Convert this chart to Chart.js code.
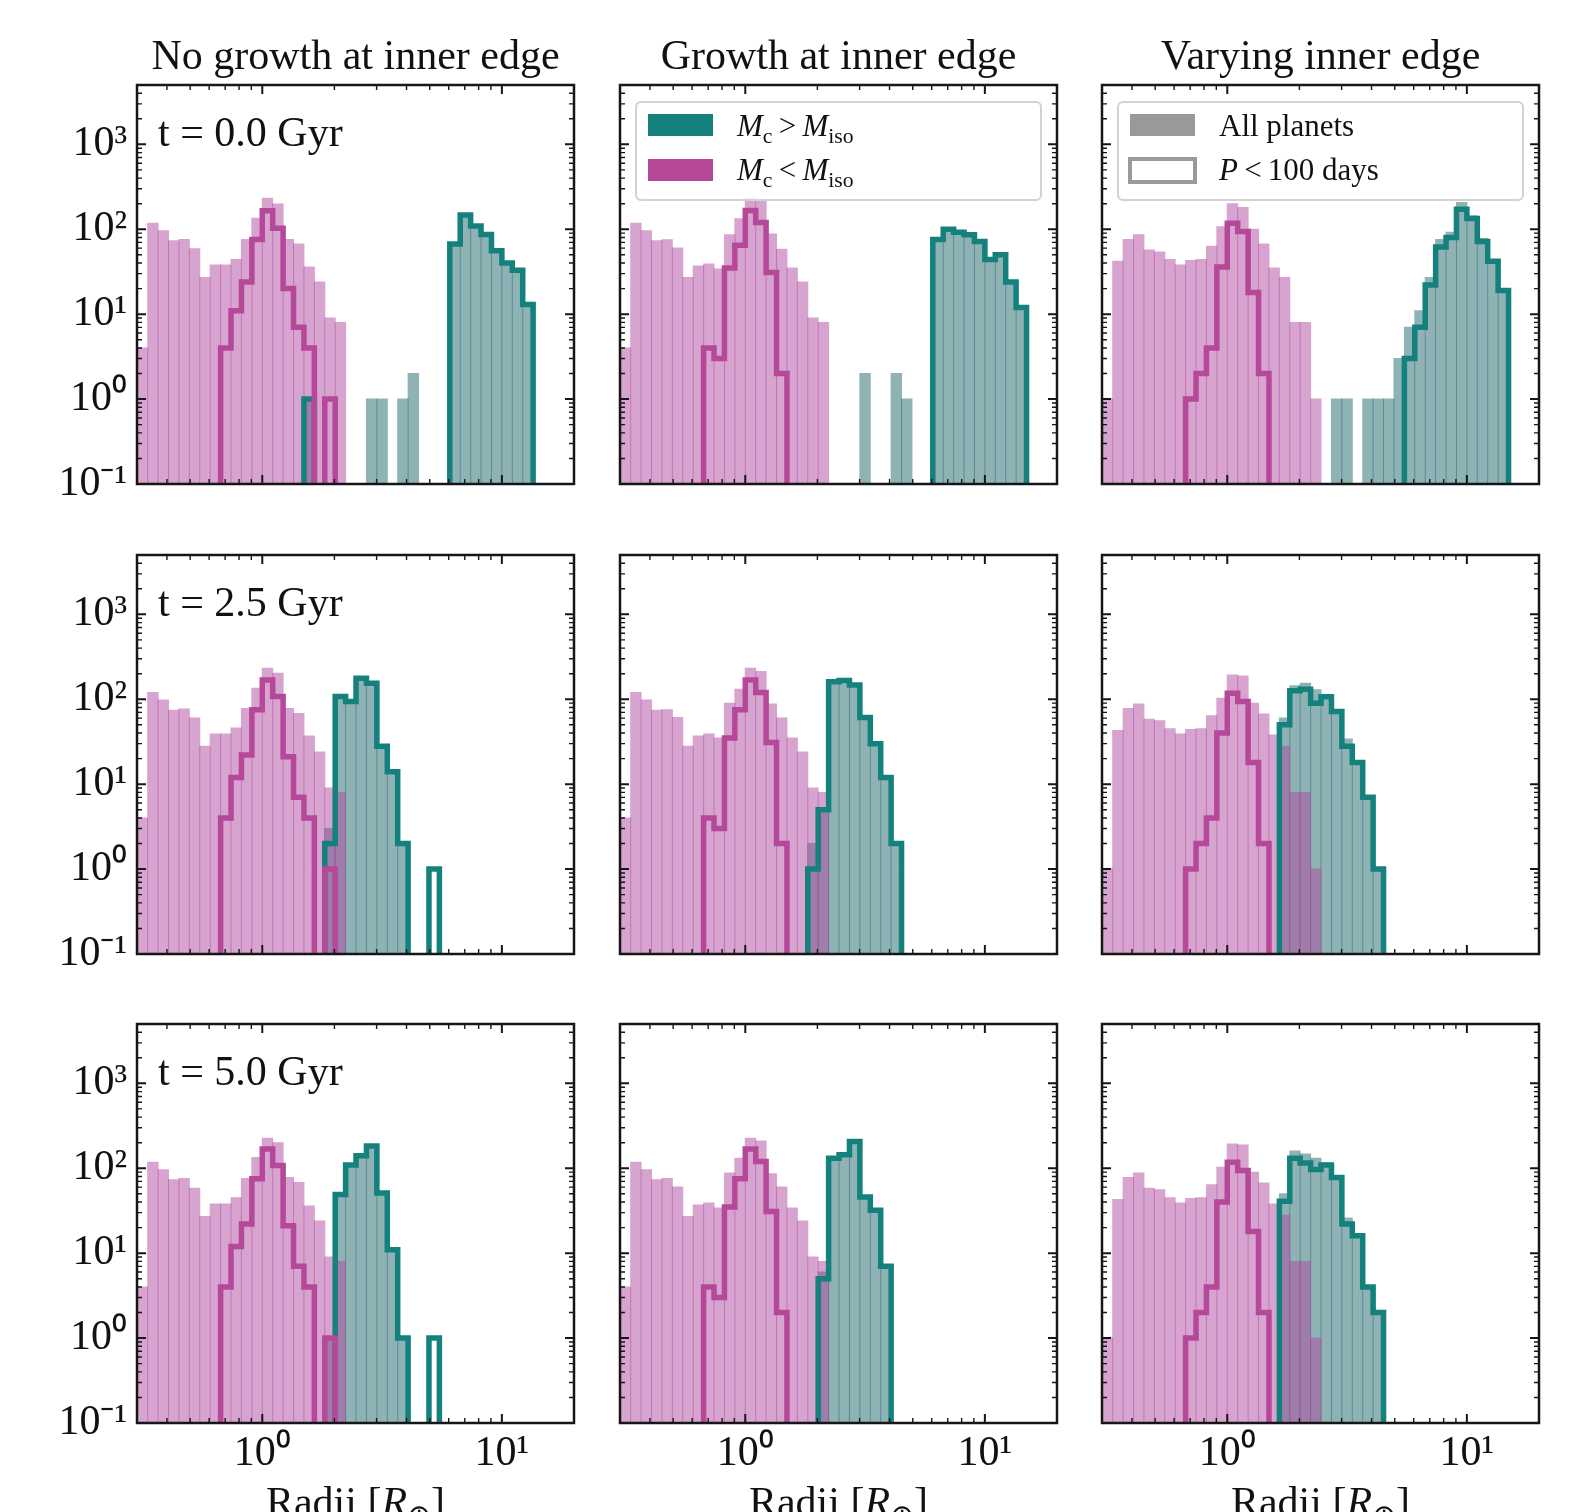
<!DOCTYPE html>
<html>
<head>
<meta charset="utf-8">
<script src="https://cdn.jsdelivr.net/npm/chart.js@4.4.0/dist/chart.umd.min.js"></script>
<style>
  html, body { margin: 0; padding: 0; background: #fff; }
  #fig { position: relative; width: 1590px; height: 1512px; overflow: hidden;
         font-family: "Liberation Serif", "Times New Roman", serif; color: #111; }
  #fig canvas { position: absolute; }
  .txt { position: absolute; white-space: nowrap; line-height: 1; }
  .legend { position: absolute; box-sizing: border-box; border: 2px solid #d2d2d2;
            border-radius: 6px; background: rgba(255, 255, 255, 0.8); }
  .sw { position: absolute; box-sizing: border-box; }
  sub { font-size: 70%; vertical-align: baseline; position: relative; top: 0.3em; }
</style>
</head>
<body>
<div id="fig"></div>
<script>
// log-spaced radius bins (23 per decade), edges in Earth radii
const binEdges = [0.30079, 0.33246, 0.36747, 0.40617, 0.44893, 0.49620, 0.54844, 0.60619,
  0.67002, 0.74057, 0.81854, 0.90473, 1.0, 1.1053, 1.2217, 1.3503, 1.4925, 1.6497, 1.8234,
  2.0154, 2.2276, 2.4622, 2.7215, 3.0080, 3.3248, 3.6749, 4.0618, 4.4895, 4.9623, 5.4848,
  6.0624, 6.7007, 7.4063, 8.1862, 9.0482, 10.0, 11.053, 12.217, 13.503, 14.925, 16.497,
  18.234, 20.154];

const columnTitles = ['No growth at inner edge', 'Growth at inner edge', 'Varying inner edge'];
const timeLabels = ['t = 0.0 Gyr', 't = 2.5 Gyr', 't = 5.0 Gyr'];
const yTickLabels = {0.1: '10\u207B\u00B9', 1: '10\u2070', 10: '10\u00B9', 100: '10\u00B2', 1000: '10\u00B3'};
const xTickLabels = {1: '10\u2070', 10: '10\u00B9'};

// counts per bin. magenta = Mc < Miso, teal = Mc > Miso
// "All" = all planets (filled), "Short" = P < 100 days (step outline)
// ng = no growth, gr = growth, vr = varying inner edge

// t = 0.0 Gyr
const magAll_ng_t0 = [4, 118, 96, 73, 76, 59, 27, 38, 38, 44, 76, 135, 232, 199, 76, 67, 36, 24, 9, 8];
const magShort_ng_t0 = [4, 11, 24, 76, 165, 103, 20, 7, 4, 0, 1];
const tealAll_ng_t0 = [1, 0, 0, 0, 0, 0, 1, 1, 0, 1, 2, 0, 0, 0, 67, 147, 109, 87, 56, 40, 33, 13];
const tealShort_ng_t0 = [1, 0, 0, 0, 0, 0, 0, 0, 0, 0, 0, 0, 0, 0, 67, 147, 109, 87, 56, 40, 33, 13];

const magAll_gr_t0 = [4, 118, 96, 73, 75, 60, 27, 37, 39, 34, 86, 133, 232, 212, 88, 58, 35, 24, 9, 8];
const magShort_gr_t0 = [4, 3, 35, 65, 166, 120, 31, 2];
const tealAll_gr_t0 = [2, 0, 0, 2, 1, 0, 0, 76, 100, 92, 86, 72, 44, 50, 24, 12];
const tealShort_gr_t0 = [76, 100, 92, 86, 72, 44, 50, 24, 12];

const magAll_vr_t0 = [1, 42, 76, 86, 57, 54, 44, 38, 43, 44, 63, 107, 200, 181, 100, 67, 35, 27, 8, 8, 1];
const magShort_vr_t0 = [1, 2, 4, 36, 118, 94, 18, 2];
const tealAll_vr_t0 = [1, 1, 0, 1, 1, 1, 3, 7, 11, 27, 76, 92, 207, 144, 78, 44, 19];
const tealShort_vr_t0 = [3, 7, 22, 62, 80, 172, 134, 72, 42, 19];

// t = 2.5 Gyr
const magAll_ng_t25 = [4, 120, 98, 74, 77, 60, 28, 39, 39, 46, 78, 135, 232, 202, 78, 68, 37, 24, 9, 8];
const magShort_ng_t25 = [4, 12, 22, 75, 169, 108, 21, 7, 4, 0, 1];
const tealAll_ng_t25 = [3, 108, 94, 177, 154, 28, 14, 2];
const tealShort_ng_t25 = [2, 108, 94, 177, 154, 28, 14, 2, 0, 0, 1];

const magAll_gr_t25 = [4, 120, 98, 74, 75, 61, 28, 37, 39, 35, 90, 131, 232, 212, 88, 60, 35, 24, 9, 8];
const magShort_gr_t25 = [4, 3, 35, 75, 169, 120, 31, 2];
const tealAll_gr_t25 = [2, 5, 161, 166, 147, 61, 30, 12, 2];
const tealShort_gr_t25 = [1, 5, 161, 166, 147, 61, 30, 12, 2];

const magAll_vr_t25 = [1, 43, 78, 88, 58, 56, 45, 39, 44, 45, 64, 103, 193, 188, 90, 67, 38, 28, 8, 8, 1];
const magShort_vr_t25 = [1, 2, 4, 40, 118, 94, 18, 2];
const tealAll_vr_t25 = [60, 144, 154, 129, 113, 75, 34, 18, 7, 1];
const tealShort_vr_t25 = [50, 126, 131, 90, 107, 72, 28, 18, 7, 1];

// t = 5.0 Gyr
const magAll_ng_t50 = [4, 118, 96, 73, 76, 58, 27, 38, 38, 45, 76, 134, 225, 200, 78, 68, 36, 24, 9, 8];
const magShort_ng_t50 = [4, 12, 22, 75, 169, 108, 21, 7, 4, 0, 1];
const tealAll_ng_t50 = [1, 49, 109, 140, 183, 51, 11, 1];
const tealShort_ng_t50 = [49, 109, 140, 183, 51, 11, 1, 0, 0, 1];

const magAll_gr_t50 = [4, 118, 96, 73, 76, 60, 27, 37, 39, 34, 88, 131, 225, 210, 86, 60, 34, 24, 9, 8];
const magShort_gr_t50 = [4, 3, 35, 75, 169, 120, 31, 2];
const tealAll_gr_t50 = [6, 131, 144, 206, 46, 32, 7];
const tealShort_gr_t50 = [5, 131, 144, 206, 46, 32, 7];

const magAll_vr_t50 = [1, 43, 78, 88, 58, 56, 45, 39, 44, 45, 64, 103, 193, 188, 90, 67, 38, 28, 8, 8, 1];
const magShort_vr_t50 = [1, 2, 4, 40, 118, 94, 18, 2];
const tealAll_vr_t50 = [50, 160, 147, 131, 115, 78, 26, 16, 4, 2];
const tealShort_vr_t50 = [41, 131, 115, 97, 109, 78, 22, 16, 4, 2];

// which arrays go in which panel, and the index of the first bin of each array
const panels = [
  {row: 0, col: 0, magAll: magAll_ng_t0, magShort: magShort_ng_t0, magShortFrom: 8, tealAll: tealAll_ng_t0, tealAllFrom: 16, tealShort: tealShort_ng_t0, tealShortFrom: 16},
  {row: 0, col: 1, magAll: magAll_gr_t0, magShort: magShort_gr_t0, magShortFrom: 8, tealAll: tealAll_gr_t0, tealAllFrom: 23, tealShort: tealShort_gr_t0, tealShortFrom: 30},
  {row: 0, col: 2, magAll: magAll_vr_t0, magShort: magShort_vr_t0, magShortFrom: 8, tealAll: tealAll_vr_t0, tealAllFrom: 22, tealShort: tealShort_vr_t0, tealShortFrom: 29},
  {row: 1, col: 0, magAll: magAll_ng_t25, magShort: magShort_ng_t25, magShortFrom: 8, tealAll: tealAll_ng_t25, tealAllFrom: 18, tealShort: tealShort_ng_t25, tealShortFrom: 18},
  {row: 1, col: 1, magAll: magAll_gr_t25, magShort: magShort_gr_t25, magShortFrom: 8, tealAll: tealAll_gr_t25, tealAllFrom: 18, tealShort: tealShort_gr_t25, tealShortFrom: 18},
  {row: 1, col: 2, magAll: magAll_vr_t25, magShort: magShort_vr_t25, magShortFrom: 8, tealAll: tealAll_vr_t25, tealAllFrom: 17, tealShort: tealShort_vr_t25, tealShortFrom: 17},
  {row: 2, col: 0, magAll: magAll_ng_t50, magShort: magShort_ng_t50, magShortFrom: 8, tealAll: tealAll_ng_t50, tealAllFrom: 18, tealShort: tealShort_ng_t50, tealShortFrom: 19},
  {row: 2, col: 1, magAll: magAll_gr_t50, magShort: magShort_gr_t50, magShortFrom: 8, tealAll: tealAll_gr_t50, tealAllFrom: 19, tealShort: tealShort_gr_t50, tealShortFrom: 19},
  {row: 2, col: 2, magAll: magAll_vr_t50, magShort: magShort_vr_t50, magShortFrom: 8, tealAll: tealAll_vr_t50, tealAllFrom: 17, tealShort: tealShort_vr_t50, tealShortFrom: 17},
];

// layout (px)
const colLeft = [137, 620, 1102];
const rowTop = [85, 555, 1024];
const plotW = 437, plotH = 399;
const yAxisW = 120, padTop = 12, padRight = 12;
const xAxisH = [12, 12, 70];

const magLine = '#b6489a';
const tealLine = '#14817d';
const magFill = 'rgba(176, 72, 160, 0.5)';
const tealFill = 'rgba(32, 104, 108, 0.5)';
const STEP_FLOOR = 0.01; // empty bins drop below the axis and get clipped

const xMajor = [1, 10];
const xMinor = [0.3, 0.4, 0.5, 0.6, 0.7, 0.8, 0.9, 2, 3, 4, 5, 6, 7, 8, 9, 20];
const yMajor = [0.1, 1, 10, 100, 1000];
const yMinor = [];
yMajor.forEach(d => { for (let m = 2; m <= 9; m++) if (m * d <= 5000) yMinor.push(m * d); });

Chart.defaults.font.family = '"Liberation Serif", "Times New Roman", serif';
Chart.defaults.color = '#111';

const fig = document.getElementById('fig');

function addText(html, x, baseline, size, center) {
  const d = document.createElement('div');
  d.className = 'txt';
  d.innerHTML = html;
  d.style.fontSize = size + 'px';
  d.style.left = x + 'px';
  d.style.top = (baseline - 0.838 * size) + 'px';
  if (center) d.style.transform = 'translateX(-50%)';
  fig.appendChild(d);
}

function barPoints(counts, from) {
  return counts.map((c, j) => ({
    x: Math.sqrt(binEdges[from + j] * binEdges[from + j + 1]),
    y: c > 0 ? c : null
  }));
}

function stepPoints(counts, from) {
  const pts = [{x: binEdges[from], y: STEP_FLOOR}];
  counts.forEach((c, j) => pts.push({x: binEdges[from + j], y: c > 0 ? c : STEP_FLOOR}));
  pts.push({x: binEdges[from + counts.length], y: STEP_FLOOR});
  return pts;
}

// box round the plot + inward ticks on all four sides, like matplotlib
const frameTicks = {
  id: 'frameTicks',
  afterDraw(chart) {
    const {ctx, chartArea: a} = chart;
    const xs = chart.scales.x, ys = chart.scales.y;
    ctx.save();
    ctx.strokeStyle = '#161616';
    xs.ticks.forEach(t => {
      const px = xs.getPixelForValue(t.value);
      const len = t.major ? 9 : 5;
      ctx.lineWidth = t.major ? 2 : 1.4;
      ctx.beginPath();
      ctx.moveTo(px, a.bottom); ctx.lineTo(px, a.bottom - len);
      ctx.moveTo(px, a.top); ctx.lineTo(px, a.top + len);
      ctx.stroke();
    });
    ys.ticks.forEach(t => {
      const py = ys.getPixelForValue(t.value);
      const len = t.major ? 9 : 5;
      ctx.lineWidth = t.major ? 2 : 1.4;
      ctx.beginPath();
      ctx.moveTo(a.left, py); ctx.lineTo(a.left + len, py);
      ctx.moveTo(a.right, py); ctx.lineTo(a.right - len, py);
      ctx.stroke();
    });
    ctx.lineWidth = 2.5;
    ctx.strokeRect(a.left, a.top, a.right - a.left, a.bottom - a.top);
    ctx.restore();
  }
};

panels.forEach(p => {
  const cv = document.createElement('canvas');
  const w = yAxisW + plotW + padRight;
  const h = padTop + plotH + xAxisH[p.row];
  cv.width = w; cv.height = h;
  cv.style.left = (colLeft[p.col] - yAxisW) + 'px';
  cv.style.top = (rowTop[p.row] - padTop) + 'px';
  cv.style.width = w + 'px'; cv.style.height = h + 'px';
  fig.appendChild(cv);

  // neighbouring bars overlap by ~1px, which gives the darker seam between bars
  const barStyle = {type: 'bar', grouped: false, barPercentage: 1, categoryPercentage: 1,
    inflateAmount: 0.5, borderWidth: 0};

  new Chart(cv, {
    type: 'bar',
    data: {
      datasets: [
        Object.assign({}, barStyle, {data: barPoints(p.tealAll, p.tealAllFrom), backgroundColor: tealFill, order: 4}),
        Object.assign({}, barStyle, {data: barPoints(p.magAll, 0), backgroundColor: magFill, order: 3}),
        {type: 'line', data: stepPoints(p.tealShort, p.tealShortFrom), borderColor: tealLine, borderWidth: 5.5,
          stepped: 'before', pointRadius: 0, fill: false, borderJoinStyle: 'miter', order: 2},
        {type: 'line', data: stepPoints(p.magShort, p.magShortFrom), borderColor: magLine, borderWidth: 5.5,
          stepped: 'before', pointRadius: 0, fill: false, borderJoinStyle: 'miter', order: 1},
      ]
    },
    options: {
      responsive: false, animation: false, devicePixelRatio: 1,
      layout: {padding: {top: padTop, right: padRight, left: 0, bottom: 0}, autoPadding: false},
      plugins: {legend: {display: false}, tooltip: {enabled: false}},
      scales: {
        x: {
          type: 'logarithmic', min: 0.3, max: 20, offset: false,
          grid: {display: false, drawTicks: false, offset: false}, border: {display: false},
          ticks: {autoSkip: false, maxRotation: 0, minRotation: 0, padding: 6,
            font: {size: 42}, color: '#111',
            callback: v => (p.row === 2 ? (xTickLabels[v] || '') : '')},
          afterBuildTicks: s => {
            s.ticks = xMajor.map(v => ({value: v, major: true})).concat(xMinor.map(v => ({value: v, major: false})));
          },
          afterFit: s => { s.height = xAxisH[p.row]; s.paddingLeft = 0; s.paddingRight = 0; }
        },
        y: {
          type: 'logarithmic', min: 0.1, max: 5000,
          grid: {display: false, drawTicks: false}, border: {display: false},
          ticks: {autoSkip: false, padding: 10, font: {size: 42}, color: '#111',
            callback: v => (p.col === 0 ? (yTickLabels[v] || '') : '')},
          afterBuildTicks: s => {
            s.ticks = yMajor.map(v => ({value: v, major: true})).concat(yMinor.map(v => ({value: v, major: false})));
          },
          afterFit: s => { s.width = yAxisW; s.paddingTop = 0; s.paddingBottom = 0; }
        }
      }
    },
    plugins: [frameTicks]
  });
});

// column titles, time labels, x-axis titles
columnTitles.forEach((t, c) => addText(t, colLeft[c] + plotW / 2, 69, 42, true));
timeLabels.forEach((t, r) => addText(t, 158, rowTop[r] + 61, 42, false));
colLeft.forEach(x => addText('Radii [<i>R</i><sub>\u2295</sub>]', x + plotW / 2, 1516, 42, true));

// legends (top row, middle and right panels)
function addLegend(col, items) {
  const left = colLeft[col] + 15, top = rowTop[0] + 16;
  const box = document.createElement('div');
  box.className = 'legend';
  box.style.left = left + 'px'; box.style.top = top + 'px';
  box.style.width = '407px'; box.style.height = '100px';
  fig.appendChild(box);
  items.forEach((it, i) => {
    const sw = document.createElement('div');
    sw.className = 'sw';
    if (it.fill) {
      sw.style.left = (left + 13) + 'px'; sw.style.top = (top + 13 + 45 * i) + 'px';
      sw.style.width = '65px'; sw.style.height = '22px';
      sw.style.background = it.fill;
    } else {
      sw.style.left = (left + 11) + 'px'; sw.style.top = (top + 11 + 45 * i) + 'px';
      sw.style.width = '69px'; sw.style.height = '27px';
      sw.style.border = '4px solid ' + it.edge;
    }
    fig.appendChild(sw);
    addText(it.html, left + 102, top + 35 + 44 * i, 31, false);
  });
}
addLegend(1, [
  {fill: tealLine, html: '<i>M</i><sub>c</sub>&#8201;&gt;&#8201;<i>M</i><sub>iso</sub>'},
  {fill: magLine, html: '<i>M</i><sub>c</sub>&#8201;&lt;&#8201;<i>M</i><sub>iso</sub>'}
]);
addLegend(2, [
  {fill: '#999999', html: 'All planets'},
  {edge: '#9a9a9a', html: '<i>P</i>&#8201;&lt;&#8201;100 days'}
]);
</script>
</body>
</html>
